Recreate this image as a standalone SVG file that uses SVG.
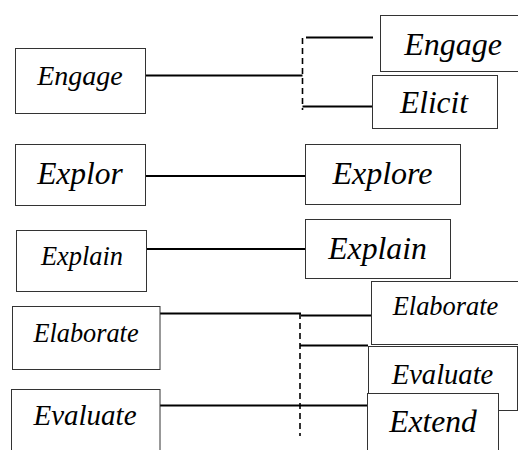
<svg xmlns="http://www.w3.org/2000/svg" width="518" height="450" viewBox="0 0 518 450">
<style>
.box{fill:#fff;stroke:#333;stroke-width:1}
.t{fill:#000;text-anchor:middle}
.ln{stroke:#000;stroke-width:2;fill:none}
.ds{stroke:#000;stroke-width:1.6;fill:none;stroke-dasharray:6,4}
</style>
<rect width="518" height="450" fill="#fff"/>
<g id="connectors">
<line class="ln" x1="145" y1="75.5" x2="302.5" y2="75.5"/>
<line class="ds" x1="302.5" y1="38" x2="302.5" y2="110"/>
<line class="ln" x1="306" y1="37.5" x2="373" y2="37.5"/>
<line class="ln" x1="302.5" y1="106.5" x2="373" y2="106.5"/>
<line class="ln" x1="145" y1="176" x2="305" y2="176"/>
<line class="ln" x1="146.5" y1="249" x2="306" y2="249"/>
<line class="ln" x1="160" y1="313.5" x2="301" y2="313.5"/>
<line class="ln" x1="301" y1="315.5" x2="372" y2="315.5"/>
<line class="ds" x1="300" y1="313" x2="300" y2="436"/>
<line class="ln" x1="300" y1="345.5" x2="368" y2="345.5"/>
<line class="ln" x1="160" y1="405.5" x2="368" y2="405.5"/>
</g>
<g font-family="Liberation Serif, DejaVu Serif, serif" font-style="italic">
<g id="l-engage"><rect class="box" x="15.5" y="48.5" width="130" height="65"/><text class="t" x="80" y="85" font-size="28">Engage</text></g>
<g id="l-explor"><rect class="box" x="15.5" y="144.5" width="130" height="61"/><text class="t" x="80" y="183.5" font-size="31.5">Explor</text></g>
<g id="l-explain"><rect class="box" x="16.5" y="230.5" width="130" height="61"/><text class="t" x="82" y="265" font-size="26.4">Explain</text></g>
<g id="l-elaborate"><rect class="box" x="12.5" y="306.5" width="147.5" height="63"/><text class="t" x="86" y="341.5" font-size="26.3">Elaborate</text></g>
<g id="l-evaluate"><rect class="box" x="11.5" y="389.5" width="148.5" height="70"/><text class="t" x="85" y="425" font-size="29">Evaluate</text></g>
<g id="r-engage"><rect class="box" x="380.5" y="15.5" width="140" height="56"/><text class="t" x="453" y="55" font-size="32">Engage</text></g>
<g id="r-elicit"><rect class="box" x="372.5" y="75.5" width="125" height="53"/><text class="t" x="434" y="113" font-size="31.4">Elicit</text></g>
<g id="r-explore"><rect class="box" x="305.5" y="144.5" width="155" height="60"/><text class="t" x="382.5" y="184" font-size="32">Explore</text></g>
<g id="r-explain"><rect class="box" x="305.5" y="219.5" width="145" height="59"/><text class="t" x="377.5" y="258.5" font-size="31.7">Explain</text></g>
<g id="r-elaborate"><rect class="box" x="371.5" y="281.5" width="150" height="63"/><text class="t" x="445.5" y="315" font-size="26.4">Elaborate</text></g>
<g id="r-evaluate"><rect class="box" x="368.5" y="346.5" width="149" height="64"/><text class="t" x="442.5" y="383.5" font-size="28.6">Evaluate</text></g>
<g id="r-extend"><rect class="box" x="367.5" y="393.5" width="131" height="70"/><text class="t" x="433" y="432" font-size="31.5">Extend</text></g>
</g>
</svg>
